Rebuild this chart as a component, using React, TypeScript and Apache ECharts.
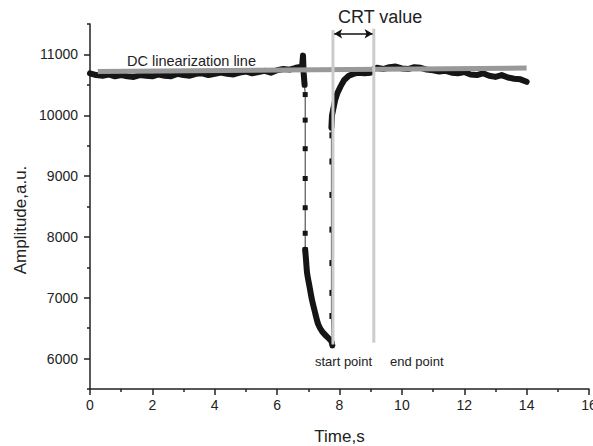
import React, { useEffect, useRef } from 'react';
import * as echarts from 'echarts';

// ---- data ----
const preDropTime = [0, 0.2, 0.4, 0.6, 0.8, 1.0, 1.2, 1.4, 1.6, 1.8, 2.0, 2.2, 2.4, 2.6, 2.8, 3.0, 3.2, 3.4, 3.6, 3.8, 4.0, 4.2, 4.4, 4.6, 4.8, 5.0, 5.2, 5.4, 5.6, 5.8, 6.0, 6.2, 6.4, 6.6, 6.8, 6.83, 6.85, 6.88];
const preDropAmp = [10690, 10660, 10650, 10670, 10640, 10660, 10640, 10630, 10660, 10650, 10640, 10670, 10650, 10640, 10680, 10660, 10650, 10680, 10690, 10660, 10680, 10700, 10680, 10670, 10700, 10720, 10690, 10710, 10730, 10700, 10740, 10760, 10750, 10780, 10800, 10980, 10700, 10500];

const dropTime = [6.88, 6.9, 6.9, 6.9, 6.9, 6.9, 6.9, 6.9];
const dropAmp = [10500, 10340, 9920, 9450, 8960, 8480, 8060, 7790];

const fallTime = [6.9, 6.93, 6.96, 7.04, 7.12, 7.22, 7.32, 7.45, 7.58, 7.68, 7.74, 7.77];
const fallAmp = [7790, 7600, 7410, 7180, 6960, 6750, 6560, 6440, 6370, 6320, 6280, 6220];

const jumpTime = [7.77, 7.74, 7.74, 7.74, 7.74, 7.74, 7.74, 7.74, 7.74];
const jumpAmp = [6220, 6700, 7080, 7570, 8120, 8690, 9240, 9670, 9800];

const recoveryTime = [7.74, 7.76, 7.8, 7.86, 7.93, 8.03, 8.15, 8.3, 8.45, 8.6, 8.8, 9.0, 9.1, 9.2, 9.4, 9.6, 9.8, 10.0, 10.2, 10.4, 10.6, 10.8, 11.0, 11.2, 11.4, 11.6, 11.8, 12.0, 12.2, 12.4, 12.6, 12.8, 13.0, 13.2, 13.4, 13.6, 13.8, 14.0];
const recoveryAmp = [9800, 10000, 10100, 10250, 10360, 10470, 10580, 10650, 10680, 10700, 10690, 10700, 10760, 10780, 10760, 10790, 10800, 10770, 10760, 10790, 10780, 10750, 10740, 10720, 10730, 10700, 10690, 10710, 10670, 10660, 10690, 10650, 10630, 10660, 10620, 10600, 10590, 10550];

const dcLineTime = [0.25, 14];
const dcLineAmp = [10720, 10775];

const startLineTime = [7.79, 7.79];
const startLineAmp = [6230, 11400];
const endLineTime = [9.1, 9.1];
const endLineAmp = [6260, 11420];

const arrowAmp = 11340;

const yLabelValues = [6000, 7000, 8000, 9000, 10000, 11000];
const yMinorValues = [5500, 6500, 7500, 8500, 9500, 10500, 11500];

const zip = (t: number[], v: number[]) => t.map((x, i) => [x, v[i]]);

const FONT = '"Liberation Sans", Arial, sans-serif';

export default function App() {
  const ref = useRef<HTMLDivElement>(null);
  useEffect(() => {
    if (!ref.current) return;
    const chart = echarts.init(ref.current, undefined, { renderer: 'svg' });
    const thick = {
      type: 'line',
      showSymbol: false,
      lineStyle: { color: '#151515', width: 6, cap: 'round', join: 'round' },
      z: 2,
      silent: true,
    };
    const thin = {
      type: 'line',
      symbol: 'rect',
      lineStyle: { color: '#333', width: 1 },
      itemStyle: { color: '#151515' },
      z: 2,
      silent: true,
    };
    chart.setOption({
      animation: false,
      textStyle: { fontFamily: FONT },
      grid: { left: 90, right: 4, top: 24, bottom: 57, containLabel: false, outerBoundsMode: 'none' },
      xAxis: {
        type: 'value',
        min: 0,
        max: 16,
        interval: 2,
        name: 'Time,s',
        nameLocation: 'middle',
        nameGap: 39,
        nameTextStyle: { fontSize: 17, color: '#222', fontFamily: FONT },
        axisLine: { show: true, lineStyle: { color: '#222', width: 1.5 } },
        axisTick: { show: true, length: 6, lineStyle: { color: '#222', width: 1.5 } },
        minorTick: { show: true, splitNumber: 2, length: 3, lineStyle: { color: '#222', width: 1.5 } },
        axisLabel: { fontSize: 14, color: '#222', margin: 9, fontFamily: FONT },
        splitLine: { show: false },
      },
      yAxis: [
        {
          type: 'value',
          min: 5500,
          max: 11500,
          interval: 500,
          axisLine: { show: true, lineStyle: { color: '#222', width: 1.5 } },
          axisTick: { show: true, length: 6, customValues: yLabelValues, lineStyle: { color: '#222', width: 1.5 } },
          axisLabel: {
            fontSize: 14,
            color: '#222',
            margin: 12,
            customValues: yLabelValues,
            fontFamily: FONT,
            formatter: (v: number) => String(v),
          },
          splitLine: { show: false },
        },
        {
          type: 'value',
          min: 5500,
          max: 11500,
          interval: 500,
          position: 'left',
          axisLine: { show: false },
          axisTick: { show: true, length: 3, customValues: yMinorValues, lineStyle: { color: '#222', width: 1.5 } },
          axisLabel: { show: false },
          splitLine: { show: false },
        },
      ],
      series: [
        { ...thick, data: zip(preDropTime, preDropAmp) },
        { ...thin, symbolSize: 5, data: zip(dropTime, dropAmp) },
        { ...thick, smooth: 0.3, data: zip(fallTime, fallAmp) },
        { ...thin, symbolSize: [4, 6], data: zip(jumpTime, jumpAmp) },
        { ...thick, data: zip(recoveryTime, recoveryAmp) },
        {
          type: 'line',
          showSymbol: false,
          silent: true,
          z: 3,
          lineStyle: { color: '#999999', width: 5 },
          data: zip(dcLineTime, dcLineAmp),
        },
        {
          type: 'line',
          showSymbol: false,
          silent: true,
          z: 4,
          lineStyle: { color: '#cccccc', width: 3 },
          data: zip(startLineTime, startLineAmp),
        },
        {
          type: 'line',
          showSymbol: false,
          silent: true,
          z: 4,
          lineStyle: { color: '#cccccc', width: 3 },
          data: zip(endLineTime, endLineAmp),
          markLine: {
            silent: true,
            symbol: ['arrow', 'arrow'],
            symbolSize: [7, 8],
            label: { show: false },
            lineStyle: { color: '#111', width: 1.5, type: 'solid' },
            data: [[{ coord: [startLineTime[0] + 0.04, arrowAmp] }, { coord: [endLineTime[0] - 0.04, arrowAmp] }]],
          },
        },
      ],
      graphic: [
        {
          type: 'text',
          x: 20,
          y: 220,
          rotation: Math.PI / 2,
          style: { text: 'Amplitude,a.u.', fontSize: 17, fill: '#222', fontFamily: FONT, align: 'center', verticalAlign: 'middle' },
        },
        { type: 'text', left: 338, top: 8, style: { text: 'CRT value', fontSize: 18, fill: '#222', fontFamily: FONT } },
        { type: 'text', left: 127, top: 53, style: { text: 'DC linearization line', fontSize: 14.5, fill: '#222', fontFamily: FONT } },
        { type: 'text', left: 315, top: 355, style: { text: 'start point', fontSize: 13, fill: '#222', fontFamily: FONT } },
        { type: 'text', left: 390, top: 355, style: { text: 'end point', fontSize: 13, fill: '#222', fontFamily: FONT } },
      ],
    });
    return () => chart.dispose();
  }, []);
  return <div ref={ref} style={{ width: 593, height: 446, position: 'absolute', left: 0, top: 0 }} />;
}
